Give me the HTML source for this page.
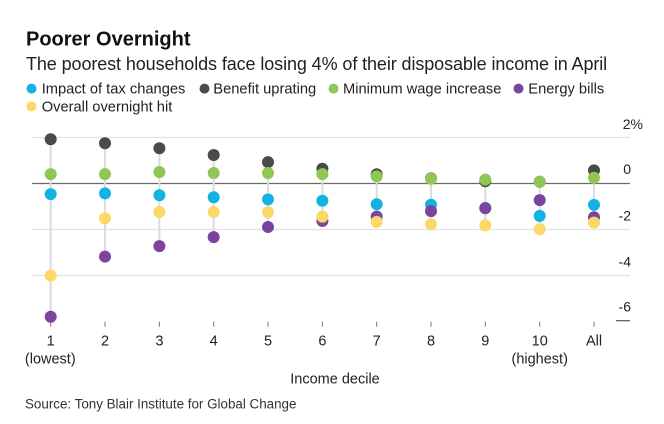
<!DOCTYPE html>
<html>
<head>
<meta charset="utf-8">
<style>
  html, body { margin: 0; padding: 0; background: #ffffff; }
  body { width: 664px; height: 424px; overflow: hidden; }
  svg { display: block; }
  text { font-family: "Liberation Sans", Arial, sans-serif; }
</style>
</head>
<body>
<svg width="664" height="424" viewBox="0 0 664 424" xmlns="http://www.w3.org/2000/svg">
  <rect x="0" y="0" width="664" height="424" fill="#ffffff"/>

  <!-- Title & subtitle -->
  <text x="26" y="45.7" font-size="20" font-weight="bold" fill="#111">Poorer Overnight</text>
  <text x="26" y="70" font-size="18" letter-spacing="-0.1" fill="#222">The poorest households face losing 4% of their disposable income in April</text>

  <!-- Legend -->
  <g font-size="14.7" fill="#222">
    <circle cx="31.5" cy="88.6" r="5" fill="#12b2e2"/>
    <text x="41.7" y="93.6">Impact of tax changes</text>
    <circle cx="204.5" cy="88.6" r="5" fill="#4a4a4a"/>
    <text x="213.3" y="93.6">Benefit uprating</text>
    <circle cx="333.5" cy="88.6" r="5" fill="#8fc654"/>
    <text x="343" y="93.6">Minimum wage increase</text>
    <circle cx="518.5" cy="88.6" r="5" fill="#7c449f"/>
    <text x="528.3" y="93.6">Energy bills</text>
    <circle cx="31.5" cy="106.4" r="5" fill="#fcd867"/>
    <text x="41.7" y="111.4">Overall overnight hit</text>
  </g>

  <!-- Gridlines -->
  <g stroke="#e2e2e2" stroke-width="1.2">
    <line x1="32" y1="137.5" x2="630" y2="137.5"/>
    <line x1="32" y1="229.5" x2="630" y2="229.5"/>
    <line x1="32" y1="275.5" x2="630" y2="275.5"/>
  </g>
  <line x1="32" y1="183.5" x2="630" y2="183.5" stroke="#6a6a6a" stroke-width="1.2"/>
  <line x1="616" y1="320.7" x2="630" y2="320.7" stroke="#555" stroke-width="1.2"/>

  <!-- Y labels -->
  <g font-size="14" fill="#222">
    <text x="622.7" y="129">2%</text>
    <text x="631" y="174" text-anchor="end">0</text>
    <text x="631" y="220.7" text-anchor="end">-2</text>
    <text x="631" y="266.7" text-anchor="end">-4</text>
    <text x="631" y="311.7" text-anchor="end">-6</text>
  </g>

  <!-- Connectors (min to max per column) -->
  <g stroke="#dcdcdc" stroke-width="2">
    <line x1="50.7" y1="139.3" x2="50.7" y2="316.7"/>
    <line x1="105.0" y1="143.3" x2="105.0" y2="256.6"/>
    <line x1="159.4" y1="148.3" x2="159.4" y2="246.1"/>
    <line x1="213.7" y1="155.0" x2="213.7" y2="237.1"/>
    <line x1="268.0" y1="162.1" x2="268.0" y2="227.0"/>
    <line x1="322.4" y1="168.8" x2="322.4" y2="221.0"/>
    <line x1="376.7" y1="174.3" x2="376.7" y2="221.9"/>
    <line x1="431.0" y1="178.4" x2="431.0" y2="224.2"/>
    <line x1="485.3" y1="179.6" x2="485.3" y2="225.4"/>
    <line x1="539.7" y1="181.7" x2="539.7" y2="229.3"/>
    <line x1="594.0" y1="170.4" x2="594.0" y2="222.6"/>
  </g>

  <!-- Bottom ticks -->
  <g stroke="#777" stroke-width="1">
    <line x1="50.7" y1="321.7" x2="50.7" y2="326.7"/>
    <line x1="105.0" y1="321.7" x2="105.0" y2="326.7"/>
    <line x1="159.4" y1="321.7" x2="159.4" y2="326.7"/>
    <line x1="213.7" y1="321.7" x2="213.7" y2="326.7"/>
    <line x1="268.0" y1="321.7" x2="268.0" y2="326.7"/>
    <line x1="322.4" y1="321.7" x2="322.4" y2="326.7"/>
    <line x1="376.7" y1="321.7" x2="376.7" y2="326.7"/>
    <line x1="431.0" y1="321.7" x2="431.0" y2="326.7"/>
    <line x1="485.3" y1="321.7" x2="485.3" y2="326.7"/>
    <line x1="539.7" y1="321.7" x2="539.7" y2="326.7"/>
    <line x1="594.0" y1="321.7" x2="594.0" y2="326.7"/>
  </g>

  <!-- Tax changes (cyan) -->
  <g fill="#12b2e2">
    <circle cx="50.7" cy="194.1" r="6"/>
    <circle cx="105.0" cy="193.4" r="6"/>
    <circle cx="159.4" cy="195.2" r="6"/>
    <circle cx="213.7" cy="197.3" r="6"/>
    <circle cx="268.0" cy="199.4" r="6"/>
    <circle cx="322.4" cy="200.8" r="6"/>
    <circle cx="376.7" cy="204.2" r="6"/>
    <circle cx="431.0" cy="204.7" r="6"/>
    <circle cx="485.3" cy="207.9" r="6"/>
    <circle cx="539.7" cy="215.9" r="6"/>
    <circle cx="594.0" cy="204.9" r="6"/>
  </g>
  <!-- Benefit uprating (dark) -->
  <g fill="#4a4a4a">
    <circle cx="50.7" cy="139.3" r="6"/>
    <circle cx="105.0" cy="143.3" r="6"/>
    <circle cx="159.4" cy="148.3" r="6"/>
    <circle cx="213.7" cy="155.0" r="6"/>
    <circle cx="268.0" cy="162.1" r="6"/>
    <circle cx="322.4" cy="168.8" r="6"/>
    <circle cx="376.7" cy="174.3" r="6"/>
    <circle cx="431.0" cy="178.4" r="6"/>
    <circle cx="485.3" cy="181.2" r="6"/>
    <circle cx="539.7" cy="181.7" r="6"/>
    <circle cx="594.0" cy="170.4" r="6"/>
  </g>
  <!-- Minimum wage (green) -->
  <g fill="#8fc654">
    <circle cx="50.7" cy="174.1" r="6"/>
    <circle cx="105.0" cy="174.1" r="6"/>
    <circle cx="159.4" cy="172.0" r="6"/>
    <circle cx="213.7" cy="173.0" r="6"/>
    <circle cx="268.0" cy="173.0" r="6"/>
    <circle cx="322.4" cy="174.1" r="6"/>
    <circle cx="376.7" cy="176.4" r="6"/>
    <circle cx="431.0" cy="178.7" r="6"/>
    <circle cx="485.3" cy="179.6" r="6"/>
    <circle cx="539.7" cy="181.7" r="6"/>
    <circle cx="594.0" cy="177.7" r="6"/>
  </g>
  <!-- Energy bills (purple) -->
  <g fill="#7c449f">
    <circle cx="50.7" cy="316.7" r="6"/>
    <circle cx="105.0" cy="256.6" r="6"/>
    <circle cx="159.4" cy="246.1" r="6"/>
    <circle cx="213.7" cy="237.1" r="6"/>
    <circle cx="268.0" cy="227.0" r="6"/>
    <circle cx="322.4" cy="221.0" r="6"/>
    <circle cx="376.7" cy="216.6" r="6"/>
    <circle cx="431.0" cy="211.1" r="6"/>
    <circle cx="485.3" cy="208.3" r="6"/>
    <circle cx="539.7" cy="200.1" r="6"/>
    <circle cx="594.0" cy="217.3" r="6"/>
  </g>
  <!-- Overall (yellow) -->
  <g fill="#fcd867">
    <circle cx="50.7" cy="275.5" r="6"/>
    <circle cx="105.0" cy="218.2" r="6"/>
    <circle cx="159.4" cy="212.0" r="6"/>
    <circle cx="213.7" cy="212.0" r="6"/>
    <circle cx="268.0" cy="212.3" r="6"/>
    <circle cx="322.4" cy="216.6" r="6"/>
    <circle cx="376.7" cy="221.9" r="6"/>
    <circle cx="431.0" cy="224.2" r="6"/>
    <circle cx="485.3" cy="225.4" r="6"/>
    <circle cx="539.7" cy="229.3" r="6"/>
    <circle cx="594.0" cy="222.6" r="6"/>
  </g>

  <!-- X labels -->
  <g font-size="14.5" fill="#222" text-anchor="middle">
    <text x="50.7" y="345.7">1</text>
    <text x="105.0" y="345.7">2</text>
    <text x="159.4" y="345.7">3</text>
    <text x="213.7" y="345.7">4</text>
    <text x="268.0" y="345.7">5</text>
    <text x="322.4" y="345.7">6</text>
    <text x="376.7" y="345.7">7</text>
    <text x="431.0" y="345.7">8</text>
    <text x="485.3" y="345.7">9</text>
    <text x="539.7" y="345.7">10</text>
    <text x="594.0" y="345.7">All</text>
    <text x="50.3" y="363.3">(lowest)</text>
    <text x="539.7" y="363.3">(highest)</text>
    <text x="335" y="383.3">Income decile</text>
  </g>

  <!-- Source -->
  <text x="25" y="408.3" font-size="13.4" fill="#333">Source: Tony Blair Institute for Global Change</text>
</svg>
</body>
</html>
